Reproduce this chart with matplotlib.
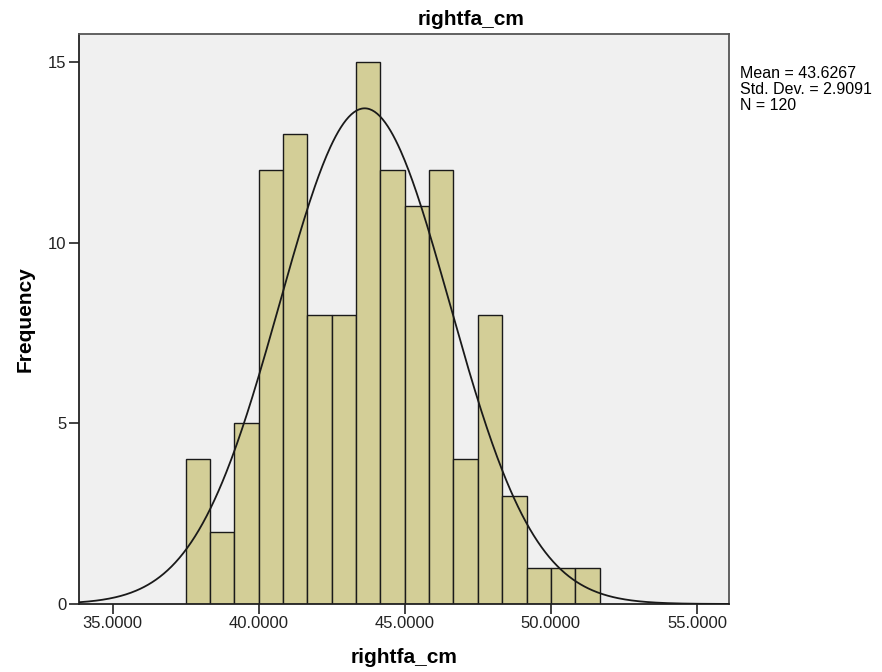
import numpy as np
import matplotlib
matplotlib.use("Agg")
import matplotlib.pyplot as plt

plt.rcParams['font.family'] = ['Liberation Sans', 'DejaVu Sans']

# histogram of rightfa_cm (SPSS style)
bin_start = 37.5
bin_width = 5 / 6
counts = [4, 2, 5, 12, 13, 8, 8, 15, 12, 11, 12, 4, 8, 3, 1, 1, 1]
mean = 43.6267
std = 2.9091
n = 120
xticks = [35, 40, 45, 50, 55]
yticks = [0, 5, 10, 15]

edges = bin_start + bin_width * np.arange(len(counts))

fig = plt.figure(figsize=(8.82, 6.72), dpi=100)
ax = fig.add_axes([0.0896, 0.1012, 0.7370, 0.8482])
ax.set_facecolor("#F0F0F0")

ax.bar(edges, counts, width=bin_width, align="edge", color="#D3CE97",
       edgecolor="#1a1a1a", linewidth=1.0, zorder=2)

xs = np.linspace(33.85, 56.1, 500)
ys = n * bin_width / (std * np.sqrt(2 * np.pi)) * np.exp(-0.5 * ((xs - mean) / std) ** 2)
ax.plot(xs, ys, color="#1a1a1a", linewidth=1.3, zorder=3)

ax.set_xlim(33.85, 56.1)
ax.set_ylim(0, 15.77)
ax.set_xticks(xticks)
ax.set_xticklabels(["%.4f" % v for v in xticks])
ax.set_yticks(yticks)
ax.tick_params(direction="out", length=7, width=1.2, labelsize=12, colors="#222222", pad=2)

for s in ["left", "bottom"]:
    ax.spines[s].set_color("#222222")
    ax.spines[s].set_linewidth(1.3)
for s in ["top", "right"]:
    ax.spines[s].set_color("#555555")
    ax.spines[s].set_linewidth(1.3)

fig.text(418 / 882, 1 - 25 / 672, "rightfa_cm", fontsize=15, fontweight="bold",
         ha="left", va="baseline")
ax.set_xlabel("rightfa_cm", fontsize=15, fontweight="bold", labelpad=12)
ax.set_ylabel("Frequency", fontsize=15, fontweight="bold", labelpad=10)

fig.text(740 / 882, 1 - 66 / 672, "Mean = 43.6267\nStd. Dev. = 2.9091\nN = 120",
         fontsize=11.5, va="top", ha="left", linespacing=1.1)

fig.savefig("out.png", dpi=100)
